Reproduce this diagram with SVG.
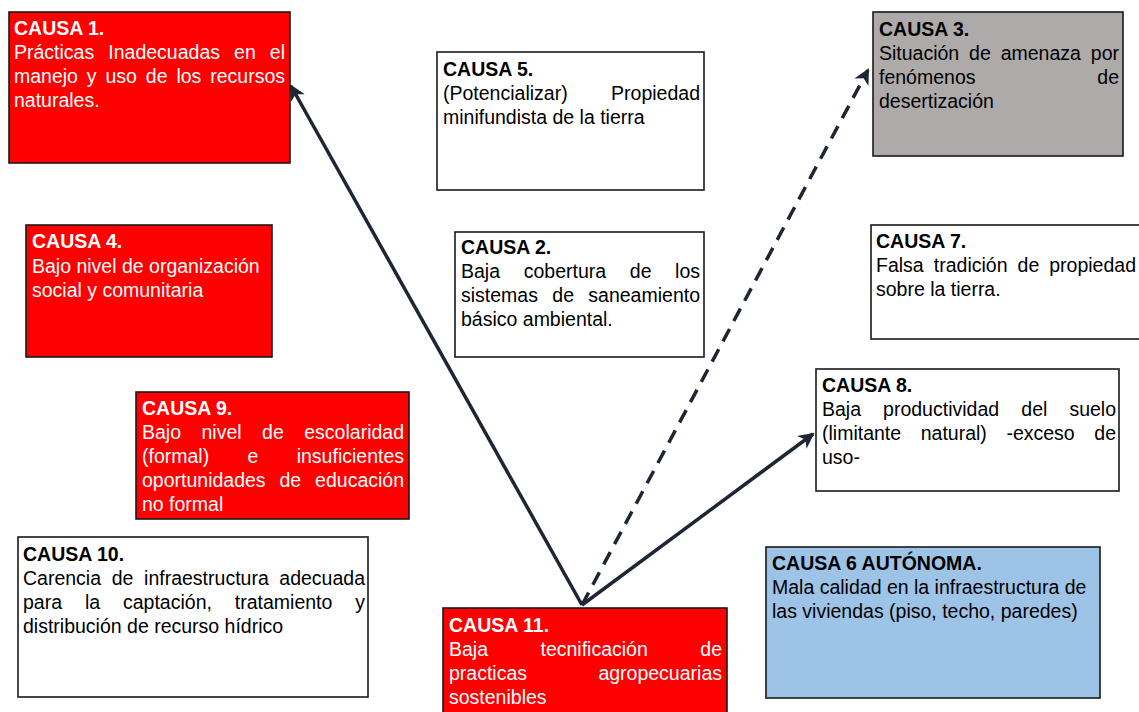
<svg xmlns="http://www.w3.org/2000/svg" width="1139" height="712" viewBox="0 0 1139 712">
<style>
.box{stroke:#1a1a1a;stroke-width:1.6}
.red{fill:#ff0000}
.white{fill:#ffffff}
.grey{fill:#aeaaaa}
.blue{fill:#9dc3e6}
text{font-family:"Liberation Sans",Arial,sans-serif;font-size:19.5px}
.t{font-weight:bold}
.w{fill:#ffffff}
.k{fill:#000000}
.e{text-anchor:end}
.arr{stroke:#1e2633;stroke-width:3.5;fill:none}
.dash{stroke-dasharray:14 9}
</style>
<defs>
<marker id="ah" viewBox="0 0 12 12" refX="10.5" refY="6" markerWidth="18" markerHeight="16" markerUnits="userSpaceOnUse" orient="auto">
<path d="M0,0 L12,6 L0,12 L3.5,6 z" fill="#1e2633"/>
</marker>
</defs>
<rect width="1139" height="712" fill="#ffffff"/>

<g id="connectors">
<line class="arr" x1="582" y1="605" x2="291" y2="86" marker-end="url(#ah)"/>
<line class="arr dash" x1="582" y1="605" x2="868" y2="70" marker-end="url(#ah)"/>
<line class="arr" x1="582" y1="605" x2="813" y2="434" marker-end="url(#ah)"/>
</g>

<g id="causa1">
<rect class="box red" x="9" y="12" width="281" height="151"/>
<text class="w"><tspan class="t" x="14" y="35">CAUSA 1.</tspan></text>
<text class="w" y="59"><tspan x="14">Prácticas</tspan><tspan x="108.3">Inadecuadas</tspan><tspan x="234.1">en</tspan><tspan x="285" class="e">el</tspan></text>
<text class="w" y="83"><tspan x="14">manejo</tspan><tspan x="86.8">y</tspan><tspan x="105.5">uso</tspan><tspan x="145.8">de</tspan><tspan x="176.4">los</tspan><tspan x="285" class="e">recursos</tspan></text>
<text class="w" x="14" y="107">naturales.</text>
</g>

<g id="causa5">
<rect class="box white" x="437" y="52" width="267" height="138"/>
<text class="k t" x="443" y="76">CAUSA 5.</text>
<text class="k" y="100"><tspan x="443">(Potencializar)</tspan><tspan x="700" class="e">Propiedad</tspan></text>
<text class="k" x="443" y="124">minifundista de la tierra</text>
</g>

<g id="causa3">
<rect class="box grey" x="873" y="12" width="250" height="144"/>
<text class="k t" x="879" y="36">CAUSA 3.</text>
<text class="k" y="60"><tspan x="879">Situación</tspan><tspan x="969.1">de</tspan><tspan x="1000.7">amenaza</tspan><tspan x="1119" class="e">por</tspan></text>
<text class="k" y="84"><tspan x="879">fenómenos</tspan><tspan x="1119" class="e">de</tspan></text>
<text class="k" x="879" y="108">desertización</text>
</g>

<g id="causa4">
<rect class="box red" x="26" y="225" width="246" height="132"/>
<text class="w t" x="32" y="248">CAUSA 4.</text>
<text class="w" x="32" y="273">Bajo nivel de organización</text>
<text class="w" x="32" y="297">social y comunitaria</text>
</g>

<g id="causa2">
<rect class="box white" x="455" y="232" width="249" height="125"/>
<text class="k t" x="461" y="254">CAUSA 2.</text>
<text class="k" y="278"><tspan x="461">Baja</tspan><tspan x="523.7">cobertura</tspan><tspan x="629.8">de</tspan><tspan x="700" class="e">los</tspan></text>
<text class="k" y="302"><tspan x="461">sistemas</tspan><tspan x="552.3">de</tspan><tspan x="700" class="e">saneamiento</tspan></text>
<text class="k" x="461" y="326">básico ambiental.</text>
</g>

<g id="causa7">
<rect class="box white" x="871" y="225" width="274" height="114"/>
<text class="k t" x="876" y="248">CAUSA 7.</text>
<text class="k" y="272"><tspan x="876">Falsa</tspan><tspan x="933.8">tradición</tspan><tspan x="1017.6">de</tspan><tspan x="1136" class="e">propiedad</tspan></text>
<text class="k" x="876" y="296">sobre la tierra.</text>
</g>

<g id="causa8">
<rect class="box white" x="816" y="369" width="303" height="122"/>
<text class="k t" x="822" y="392">CAUSA 8.</text>
<text class="k" y="416"><tspan x="822">Baja</tspan><tspan x="883.1">productividad</tspan><tspan x="1021.3">del</tspan><tspan x="1116" class="e">suelo</tspan></text>
<text class="k" y="440"><tspan x="822">(limitante</tspan><tspan x="920.7">natural)</tspan><tspan x="1006.4">-exceso</tspan><tspan x="1116" class="e">de</tspan></text>
<text class="k" x="822" y="464">uso-</text>
</g>

<g id="causa9">
<rect class="box red" x="136" y="392" width="273" height="127"/>
<text class="w t" x="142" y="415">CAUSA 9.</text>
<text class="w" y="439"><tspan x="142">Bajo</tspan><tspan x="201.5">nivel</tspan><tspan x="262.1">de</tspan><tspan x="404" class="e">escolaridad</tspan></text>
<text class="w" y="463"><tspan x="142">(formal)</tspan><tspan x="247.5">e</tspan><tspan x="404" class="e">insuficientes</tspan></text>
<text class="w" y="487"><tspan x="142">oportunidades</tspan><tspan x="279.5">de</tspan><tspan x="404" class="e">educación</tspan></text>
<text class="w" x="142" y="511">no formal</text>
</g>

<g id="causa10">
<rect class="box white" x="18" y="537" width="350" height="160"/>
<text class="k t" x="23" y="561">CAUSA 10.</text>
<text class="k" y="585"><tspan x="23">Carencia</tspan><tspan x="111.7">de</tspan><tspan x="144.1">infraestructura</tspan><tspan x="365" class="e">adecuada</tspan></text>
<text class="k" y="609"><tspan x="23">para</tspan><tspan x="84.9">la</tspan><tspan x="123">captación,</tspan><tspan x="234.8">tratamiento</tspan><tspan x="365" class="e">y</tspan></text>
<text class="k" x="23" y="633">distribución de recurso hídrico</text>
</g>

<g id="causa6">
<rect class="box blue" x="766" y="547" width="334" height="151"/>
<text class="k t" x="772" y="570">CAUSA 6 AUTÓNOMA.</text>
<text class="k" x="772" y="594">Mala calidad en la infraestructura de</text>
<text class="k" x="772" y="618">las viviendas (piso, techo, paredes)</text>
</g>

<g id="causa11">
<rect class="box red" x="443" y="608" width="284" height="112"/>
<text class="w t" x="449" y="632">CAUSA 11.</text>
<text class="w" y="656"><tspan x="449">Baja</tspan><tspan x="540.5">tecnificación</tspan><tspan x="722" class="e">de</tspan></text>
<text class="w" y="680"><tspan x="449">practicas</tspan><tspan x="722" class="e">agropecuarias</tspan></text>
<text class="w" x="449" y="704">sostenibles</text>
</g>
</svg>
